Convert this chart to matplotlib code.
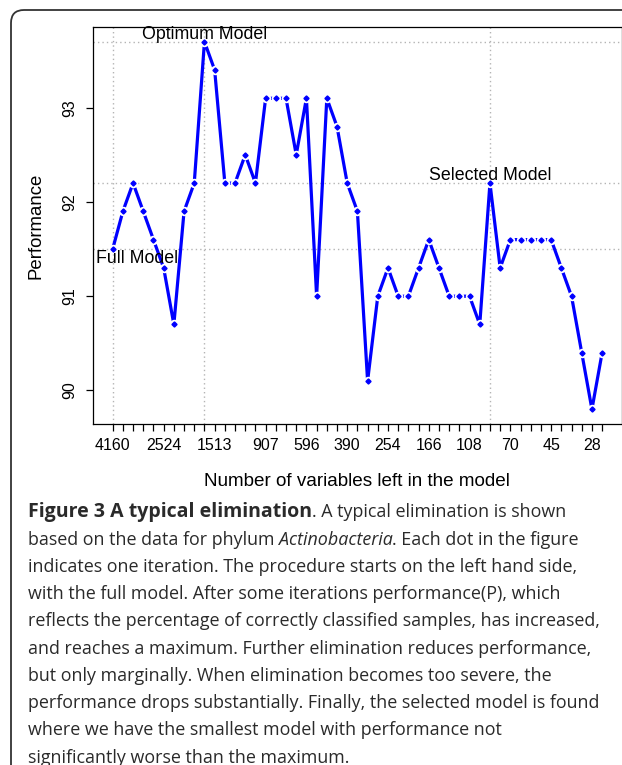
import matplotlib
matplotlib.use("Agg")
import matplotlib.pyplot as plt
from matplotlib.patches import FancyBboxPatch

plt.rcParams['font.family'] = 'Liberation Sans'

# Performance at each elimination step
perf = [91.5, 91.9, 92.2, 91.9, 91.6, 91.3, 90.7, 91.9, 92.2, 93.7,
        93.4, 92.2, 92.2, 92.5, 92.2, 93.1, 93.1, 93.1, 92.5, 93.1,
        91.0, 93.1, 92.8, 92.2, 91.9, 90.1, 91.0, 91.3, 91.0, 91.0,
        91.3, 91.6, 91.3, 91.0, 91.0, 91.0, 90.7, 92.2, 91.3, 91.6,
        91.6, 91.6, 91.6, 91.6, 91.3, 91.0, 90.4, 89.8, 90.4]
step = list(range(1, len(perf) + 1))

# number of variables shown under the x axis and the step they belong to
var_labels = ['4160', '2524', '1513', '907', '596', '390', '254', '166',
              '108', '70', '45', '28']
var_steps = [1, 6, 11, 16, 20, 24, 28, 32, 36, 40, 44, 48]

# full, optimum and selected model
full_step, opt_step, sel_step = 1, 10, 38

caption = [
    "indicates one iteration. The procedure starts on the left hand side,",
    "with the full model. After some iterations performance(P), which",
    "reflects the percentage of correctly classified samples, has increased,",
    "and reaches a maximum. Further elimination reduces performance,",
    "but only marginally. When elimination becomes too severe, the",
    "performance drops substantially. Finally, the selected model is found",
    "where we have the smallest model with performance not",
    "significantly worse than the maximum.",
]

W, H = 622, 765
fig = plt.figure(figsize=(W / 100, H / 100), dpi=100)
ax = fig.add_axes([93.1 / W, 1 - 424 / H, 528.6 / W, 397 / H])

grid_kw = dict(color='#b4b4b4', lw=1.0, ls=(0, (1, 2.2)), zorder=1)
for s in (full_step, opt_step, sel_step):
    ax.axvline(s, **grid_kw)
for s in (opt_step, sel_step, full_step):
    ax.axhline(perf[s - 1], **grid_kw)

ax.plot(step, perf, color='#0000ff', lw=2.3, zorder=2)
# R type="b": gaps round every point
ax.plot(step, perf, ls='none', marker='o', ms=6.8, mfc='white', mec='none', zorder=3)
ax.plot(step, perf, ls='none', marker='D', ms=2.6, color='#0000ff', zorder=4)

n = len(perf)
ax.set_xlim(1 - 0.04 * (n - 1), n + 0.04 * (n - 1))
lo, hi = min(perf), max(perf)
ax.set_ylim(lo - 0.04 * (hi - lo), hi + 0.04 * (hi - lo))

labels = [''] * n
for s, lab in zip(var_steps, var_labels):
    labels[s - 1] = lab
ax.set_xticks(step)
ax.set_xticklabels(labels, fontsize=11.5)
ax.set_yticks([90, 91, 92, 93])
ax.set_yticklabels(['90', '91', '92', '93'], fontsize=11.5, rotation=90, va='center')
ax.tick_params(axis='x', length=5, width=0.9, pad=5)
ax.tick_params(axis='y', length=5, width=0.9, pad=6.5)
for sp in ax.spines.values():
    sp.set_linewidth(0.9)

ax.set_xlabel("Number of variables left in the model", fontsize=13.6, va='center')
ax.xaxis.set_label_coords(0.5, -0.145)
ax.set_ylabel("Performance", fontsize=13.4, va='center')
ax.yaxis.set_label_coords(-0.108, 0.5)

ax.annotate("Optimum Model", (opt_step, perf[opt_step - 1]), xytext=(0, 5.4),
            textcoords='offset points', ha='center', va='center', fontsize=12.8)
ax.annotate("Selected Model", (sel_step, perf[sel_step - 1]), xytext=(0, 5.6),
            textcoords='offset points', ha='center', va='center', fontsize=12.8)
ax.annotate("Full Model", (full_step, perf[full_step - 1]), xytext=(17.8, -6.5),
            textcoords='offset points', ha='center', va='center', fontsize=12.8)

# outer rounded frame
frame = FancyBboxPatch((0.11, -0.5), 7.0, 7.55 + 0.5, boxstyle='round,pad=0,rounding_size=0.13',
                       transform=fig.dpi_scale_trans, fc='none', ec='#333333', lw=1.3,
                       clip_on=False)
fig.patches.append(frame)

# caption
cap_kw = dict(fontsize=12.9, family='Open Sans', color='#2a2a2a', va='baseline')
x0 = 27.5 / W
base = [517.3 + 27.25 * i for i in range(10)]
r = fig.canvas.get_renderer()


def chain(y, parts):
    x = x0
    for txt, extra in parts:
        kw = dict(cap_kw)
        kw.update(extra)
        t = fig.text(x, 1 - y / H, txt, **kw)
        bb = t.get_window_extent(renderer=r)
        x = bb.x1 / W


chain(base[0], [("Figure 3 A typical elimination", dict(fontweight='bold', fontsize=14.0)),
                (". A typical elimination is shown", {})])
chain(base[1], [("based on the data for phylum ", {}),
                ("Actinobacteria", dict(style='italic')),
                (". Each dot in the figure", {})])
for i, line in enumerate(caption):
    fig.text(x0, 1 - base[i + 2] / H, line, **cap_kw)

fig.savefig("out.png", dpi=100)
